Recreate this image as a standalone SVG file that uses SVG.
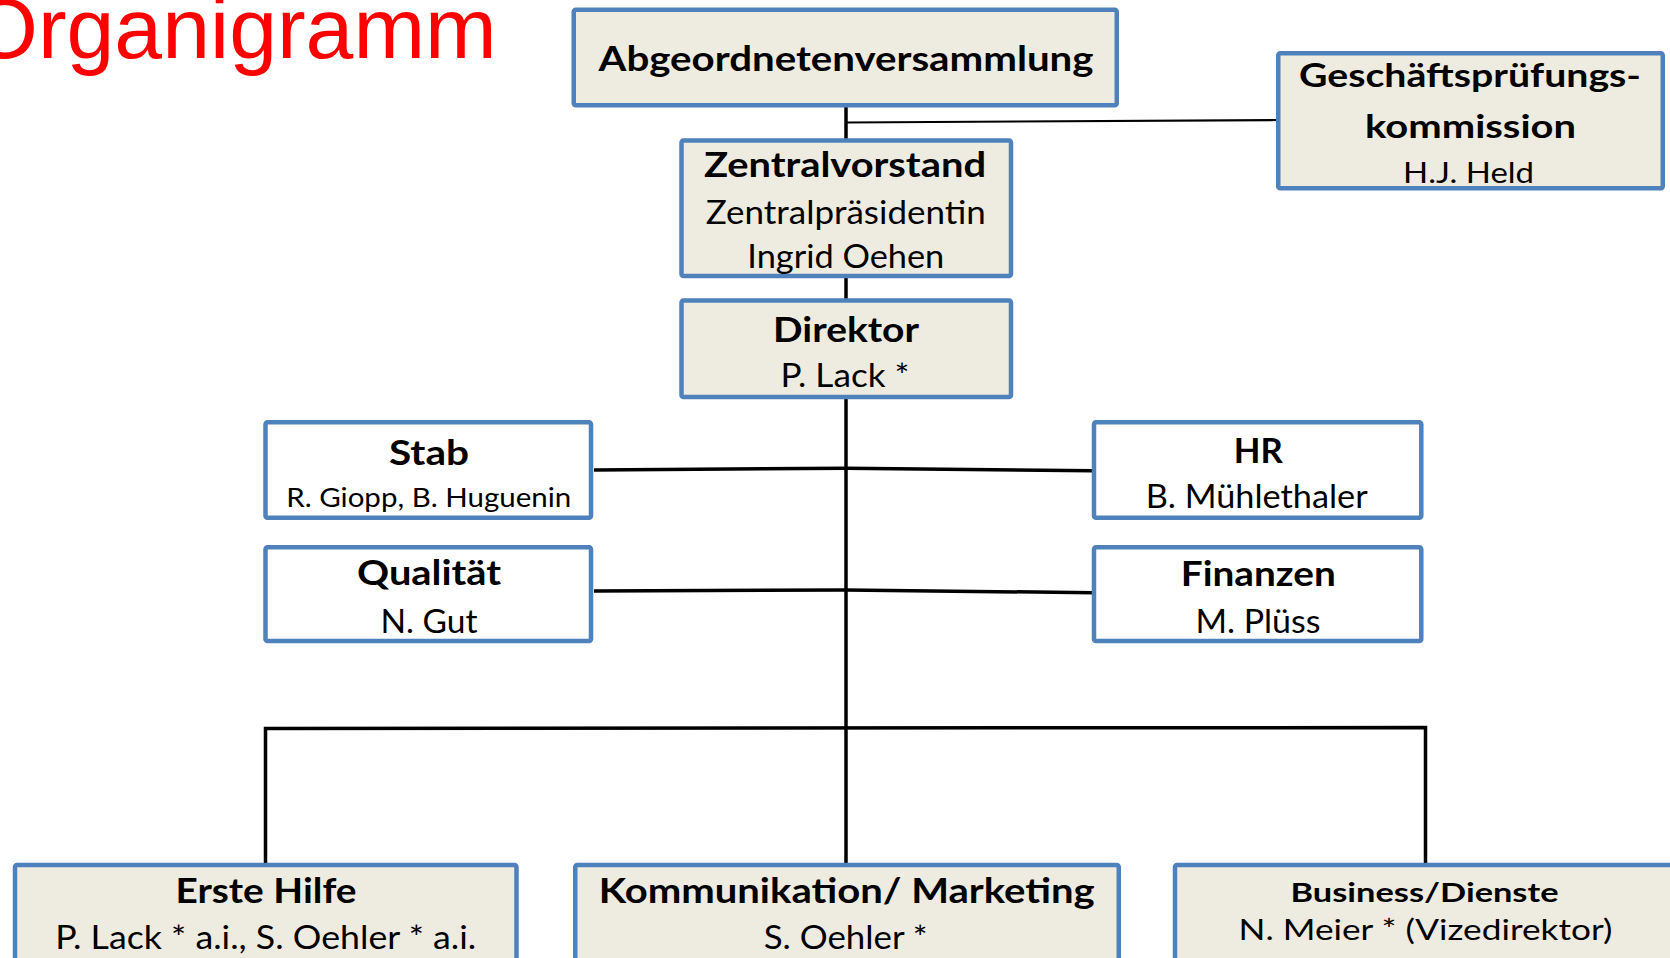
<svg xmlns="http://www.w3.org/2000/svg" width="1670" height="958" viewBox="0 0 1670 958">
<style>
.box{stroke:#4F81BD;stroke-width:4.5}
.beige{fill:#EEECE1}
.white{fill:#FFFFFF}
.t{font-family:Lato,"Open Sans","Liberation Sans",sans-serif;fill:#000;text-anchor:middle}
.b{font-weight:bold;font-size:35px}
.r{font-weight:normal;font-size:32px}
.conn{stroke:#000;stroke-width:3.5;fill:none}
</style>
<rect width="1670" height="958" fill="#FFFFFF"/>
<text x="-29" y="58" font-family="'Liberation Sans',Arial,sans-serif" font-size="86" fill="#FF0000">Organigramm</text>
<g id="connectors">
<line class="conn" x1="846" y1="107" x2="846" y2="139"/>
<line class="conn" style="stroke-width:2.2" x1="846" y1="122.5" x2="1277" y2="120"/>
<line class="conn" x1="846" y1="278" x2="846" y2="299"/>
<line class="conn" x1="846" y1="399" x2="846" y2="864"/>
<polyline class="conn" points="594,470 846,468.3 1093,470.7"/>
<polyline class="conn" points="594,591 846,590 1093,592.7"/>
<polyline class="conn" points="265.5,864 265.5,728.5 1425.5,727.5 1425.5,864"/>
</g>
<g id="abgeordnetenversammlung">
<rect class="box beige" x="573.75" y="9.75" width="543" height="95.5" rx="2"/>
<text class="t b" x="846" y="71" textLength="495" lengthAdjust="spacingAndGlyphs">Abgeordnetenversammlung</text>
</g>
<g id="gpk">
<rect class="box beige" x="1278.25" y="53.25" width="384.5" height="135" rx="2"/>
<text class="t" style="font-weight:bold;font-size:32px" x="1470" y="86.7" textLength="342" lengthAdjust="spacingAndGlyphs">Geschäftsprüfungs-</text>
<text class="t" style="font-weight:bold;font-size:32px" x="1470.5" y="138.3" textLength="211" lengthAdjust="spacingAndGlyphs">kommission</text>
<text class="t" style="font-size:29px" x="1468.5" y="183.3" textLength="131" lengthAdjust="spacingAndGlyphs">H.J. Held</text>
</g>
<g id="zentralvorstand">
<rect class="box beige" x="681.5" y="140.5" width="329.5" height="135.5" rx="2"/>
<text class="t b" x="845" y="176.7" textLength="282" lengthAdjust="spacingAndGlyphs">Zentralvorstand</text>
<text class="t r" x="845.8" y="224" textLength="280" lengthAdjust="spacingAndGlyphs">Zentralpräsidentin</text>
<text class="t r" x="845.8" y="268" textLength="197" lengthAdjust="spacingAndGlyphs">Ingrid Oehen</text>
</g>
<g id="direktor">
<rect class="box beige" x="681.5" y="300.5" width="329.5" height="96.5" rx="2"/>
<text class="t b" x="846" y="341.7" textLength="146" lengthAdjust="spacingAndGlyphs">Direktor</text>
<text class="t r" x="845" y="386.7" textLength="129" lengthAdjust="spacingAndGlyphs">P. Lack *</text>
</g>
<g id="stab">
<rect class="box white" x="265.5" y="422.25" width="325.5" height="95.5" rx="2"/>
<text class="t b" x="429" y="465" textLength="80" lengthAdjust="spacingAndGlyphs">Stab</text>
<text class="t" style="font-size:27.5px" x="428.7" y="506.7" textLength="285" lengthAdjust="spacingAndGlyphs">R. Giopp, B. Huguenin</text>
</g>
<g id="qualitaet">
<rect class="box white" x="265.5" y="547.25" width="325.5" height="93.8" rx="2"/>
<text class="t b" x="429" y="585" textLength="144" lengthAdjust="spacingAndGlyphs">Qualität</text>
<text class="t r" x="429" y="632.7" textLength="97" lengthAdjust="spacingAndGlyphs">N. Gut</text>
</g>
<g id="hr">
<rect class="box white" x="1094" y="422.25" width="327.3" height="95.5" rx="2"/>
<text class="t b" x="1258.3" y="462.7" textLength="49" lengthAdjust="spacingAndGlyphs">HR</text>
<text class="t r" x="1256.7" y="508.3" textLength="222" lengthAdjust="spacingAndGlyphs">B. Mühlethaler</text>
</g>
<g id="finanzen">
<rect class="box white" x="1094" y="547.25" width="327.3" height="93.8" rx="2"/>
<text class="t b" x="1258.3" y="586" textLength="155" lengthAdjust="spacingAndGlyphs">Finanzen</text>
<text class="t r" x="1258" y="632.7" textLength="125" lengthAdjust="spacingAndGlyphs">M. Plüss</text>
</g>
<g id="erste-hilfe">
<rect class="box beige" x="15" y="865" width="501.5" height="120" rx="2"/>
<text class="t b" x="266" y="903" textLength="181" lengthAdjust="spacingAndGlyphs">Erste Hilfe</text>
<text class="t r" x="265.7" y="949" textLength="421" lengthAdjust="spacingAndGlyphs">P. Lack * a.i., S. Oehler * a.i.</text>
</g>
<g id="kommunikation">
<rect class="box beige" x="575.25" y="865" width="543.5" height="120" rx="2"/>
<text class="t b" x="846.7" y="903" textLength="496" lengthAdjust="spacingAndGlyphs">Kommunikation/ Marketing</text>
<text class="t r" x="845.7" y="949" textLength="164" lengthAdjust="spacingAndGlyphs">S. Oehler *</text>
</g>
<g id="business">
<rect class="box beige" x="1175" y="865" width="600" height="120" rx="2"/>
<text class="t" style="font-weight:bold;font-size:27px" x="1424.5" y="901.7" textLength="268" lengthAdjust="spacingAndGlyphs">Business/Dienste</text>
<text class="t" style="font-size:28px" x="1425.5" y="940" textLength="374" lengthAdjust="spacingAndGlyphs">N. Meier * (Vizedirektor)</text>
</g>
</svg>
